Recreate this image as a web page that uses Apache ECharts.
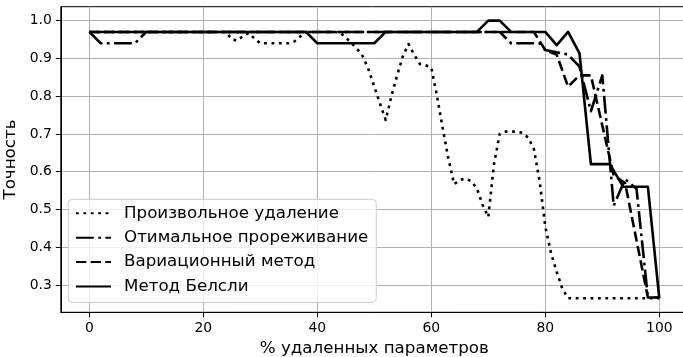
<!DOCTYPE html>
<html><head><meta charset="utf-8">
<script src="https://cdn.jsdelivr.net/npm/echarts@6/dist/echarts.min.js"></script>
<style>html,body{margin:0;padding:0;background:#fff}#c{width:683px;height:357px}</style>
</head><body><div id="c"></div>
<script>
const seriesNames = ['Произвольное удаление', 'Отимальное прореживание', 'Вариационный метод', 'Метод Белсли'];
const xTicks = [0, 20, 40, 60, 80, 100];
const yTicks = [0.3, 0.4, 0.5, 0.6, 0.7, 0.8, 0.9, 1.0];

// Произвольное удаление (dotted)
const randomX = [0, 22, 24, 25, 26, 27, 28, 29, 30, 35, 36, 37, 38, 43, 44, 45, 46, 47, 48, 49, 50, 51, 52, 53, 54, 55, 56, 57, 58, 59, 60, 61, 62, 63, 64, 65, 66, 67, 68, 69, 70, 71, 72, 73, 75, 76, 77, 78, 79, 80, 81, 82, 83, 84, 100];
const randomY = [0.97, 0.97, 0.97, 0.95, 0.947, 0.96, 0.967, 0.952, 0.94, 0.94, 0.945, 0.958, 0.97, 0.97, 0.968, 0.955, 0.94, 0.925, 0.905, 0.87, 0.825, 0.78, 0.737, 0.80, 0.855, 0.905, 0.938, 0.91, 0.885, 0.882, 0.876, 0.80, 0.715, 0.635, 0.567, 0.578, 0.582, 0.575, 0.556, 0.512, 0.48, 0.62, 0.70, 0.706, 0.706, 0.703, 0.69, 0.66, 0.575, 0.455, 0.385, 0.335, 0.29, 0.265, 0.265];

// Отимальное прореживание (dash-dot)
const obdX = [0, 2, 8, 10, 72, 74, 79, 80, 84, 86, 88, 90, 92, 94, 96, 98, 100];
const obdY = [0.97, 0.94, 0.94, 0.97, 0.97, 0.94, 0.94, 0.922, 0.91, 0.878, 0.76, 0.855, 0.51, 0.58, 0.555, 0.267, 0.267];

// Вариационный метод (dashed)
const varX = [0, 78, 80, 82, 84, 86, 88, 92, 94, 98, 100];
const varY = [0.97, 0.97, 0.922, 0.91, 0.825, 0.855, 0.855, 0.59, 0.57, 0.267, 0.267];

// Метод Белсли (solid)
const belX = [0, 38, 40, 50, 52, 68, 70, 72, 74, 80, 82, 84, 86, 88, 91.3, 93.7, 98, 100];
const belY = [0.97, 0.97, 0.94, 0.94, 0.97, 0.97, 1.0, 1.0, 0.97, 0.97, 0.935, 0.97, 0.913, 0.62, 0.62, 0.56, 0.56, 0.265];

const zip = (xs, ys) => xs.map((x, i) => [x, ys[i]]);
const FONT = 'DejaVu Sans';
const dashTypes = [[2.8, 4.6], [17.8, 4.4, 2.8, 4.4], [10.3, 4.4], 'solid'];
const datas = [zip(randomX, randomY), zip(obdX, obdY), zip(varX, varY), zip(belX, belY)];

const chart = echarts.init(document.getElementById('c'), null, {renderer: 'canvas'});
chart.setOption({
  animation: false,
  backgroundColor: '#fff',
  grid: {left: 60.8, top: 6.7, right: -4.8, bottom: 44.7, show: true, borderColor: '#000', borderWidth: 1, outerBoundsMode: 'none'},
  xAxis: {
    type: 'value', min: -5, max: 105,
    name: '% удаленных параметров', nameLocation: 'middle', nameGap: 28,
    nameTextStyle: {fontFamily: FONT, fontSize: 16.7, color: '#000'},
    axisLine: {show: true, onZero: false, lineStyle: {color: '#000', width: 1}},
    axisTick: {show: true, length: 5, customValues: xTicks, lineStyle: {color: '#000', width: 1}},
    axisLabel: {customValues: xTicks, margin: 9, fontFamily: FONT, fontSize: 13.9, color: '#000', formatter: v => String(v)},
    splitLine: {show: true, lineStyle: {color: '#b0b0b0', width: 1}}
  },
  yAxis: {
    type: 'value', min: 0.2278, max: 1.0368,
    name: 'Точность', nameLocation: 'middle', nameGap: 34,
    nameTextStyle: {fontFamily: FONT, fontSize: 16.7, color: '#000'},
    axisLine: {show: true, onZero: false, lineStyle: {color: '#000', width: 1}},
    axisTick: {show: true, length: 5, customValues: yTicks, lineStyle: {color: '#000', width: 1}},
    axisLabel: {customValues: yTicks, margin: 9, fontFamily: FONT, fontSize: 13.9, color: '#000', formatter: v => v.toFixed(1)},
    splitLine: {show: true, lineStyle: {color: '#b0b0b0', width: 1}}
  },
  legend: {
    orient: 'vertical', left: 68.3, top: 199.3,
    itemWidth: 35, itemHeight: 14, itemGap: 6.4,
    padding: [5, 8, 7, 6.7],
    backgroundColor: 'rgba(255,255,255,0.8)', borderColor: '#cccccc', borderWidth: 1, borderRadius: 4,
    selectedMode: false,
    itemStyle: {opacity: 0, borderWidth: 0},
    textStyle: {fontFamily: FONT, fontSize: 16.7, color: '#000', lineHeight: 18, padding: [0, 0, 0, 8]},
    data: seriesNames
  },
  series: seriesNames.map((n, i) => ({
    name: n, type: 'line', symbol: 'none', showSymbol: false,
    data: datas[i], z: 2 + i,
    lineStyle: {color: '#000', width: 2.6, type: dashTypes[i], cap: 'butt', join: 'round'},
    itemStyle: {color: '#000'}
  }))
});
</script></body></html>
